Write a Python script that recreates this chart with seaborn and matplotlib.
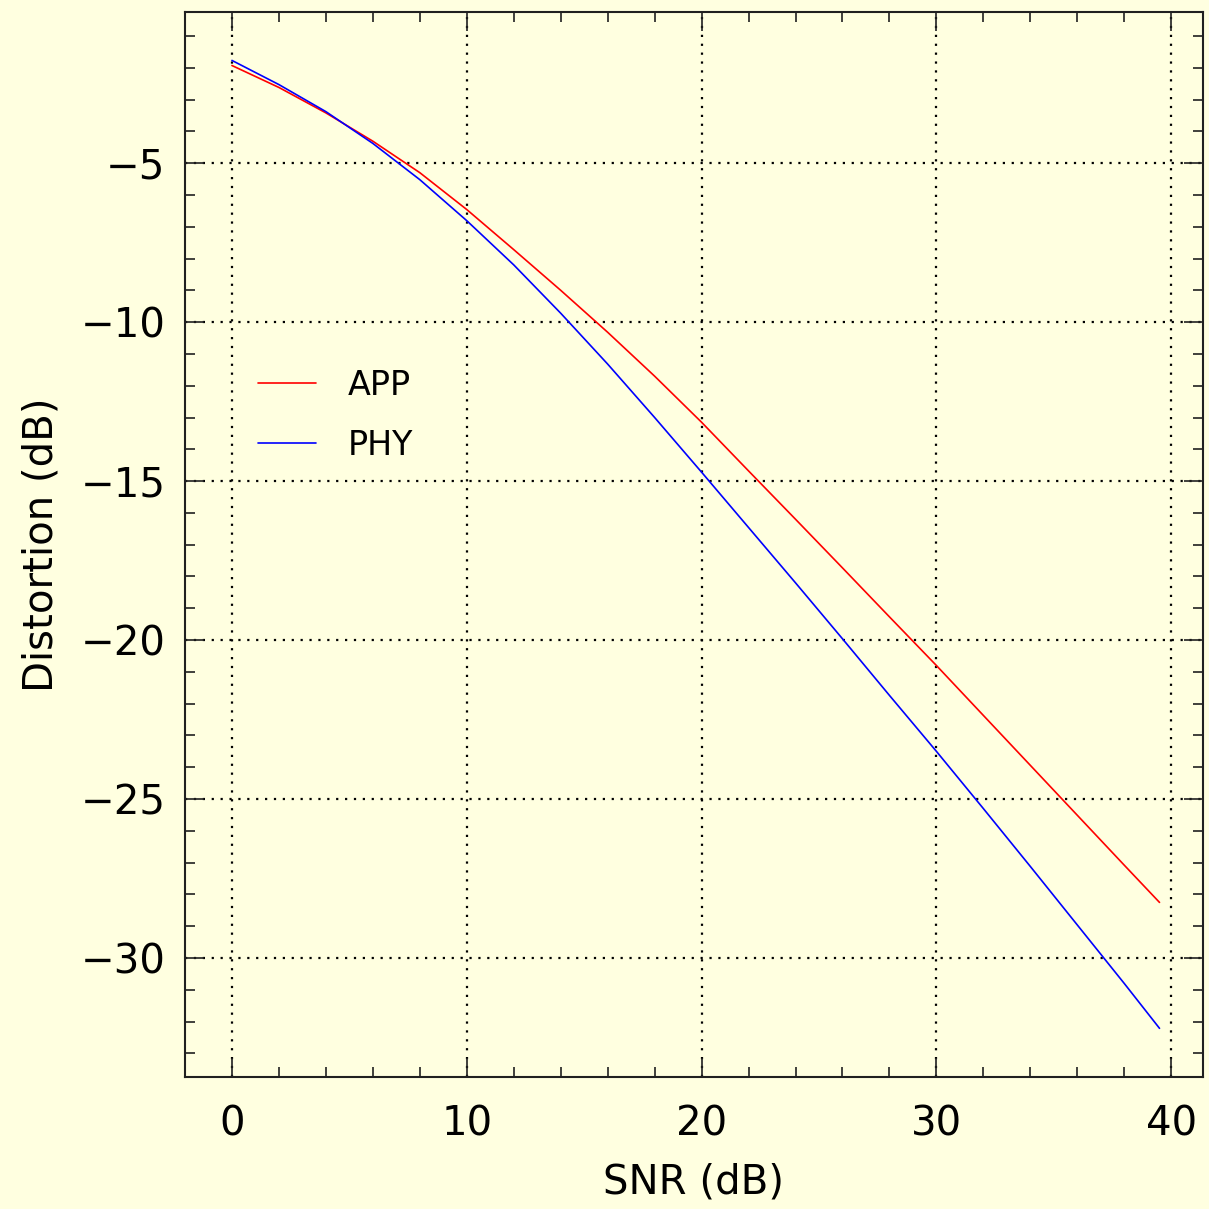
import matplotlib
matplotlib.use("Agg")
import matplotlib.pyplot as plt
from matplotlib.ticker import MultipleLocator
import seaborn as sns
import pandas as pd

# values
snr_app = [0, 2, 4, 6, 8, 10, 12, 14, 16, 18, 20, 22, 24, 26, 28, 30, 32, 34, 36, 38, 39.5]
dist_app = [-1.93, -2.62, -3.42, -4.31, -5.3, -6.46, -7.72, -9.0, -10.32, -11.7, -13.15,
            -14.68, -16.2, -17.73, -19.27, -20.8, -22.37, -23.94, -25.51, -27.08, -28.25]

snr_phy = [0, 2, 4, 6, 8, 10, 12, 14, 16, 18, 20, 22, 24, 26, 28, 30, 32, 34, 36, 38, 39.5]
dist_phy = [-1.77, -2.53, -3.38, -4.38, -5.52, -6.81, -8.2, -9.72, -11.32, -13.0, -14.72,
            -16.46, -18.2, -19.96, -21.74, -23.5, -25.3, -27.12, -28.96, -30.8, -32.21]

labels = ["APP", "PHY"]
colors = {"APP": "#ff0000", "PHY": "#0000ff"}

df = pd.concat([
    pd.DataFrame({"snr": snr_app, "dist": dist_app, "curve": "APP"}),
    pd.DataFrame({"snr": snr_phy, "dist": dist_phy, "curve": "PHY"}),
])

sns.set_style("ticks")
bg = "#ffffe0"
plt.rcParams["font.family"] = ["DejaVu Sans"]
plt.rcParams["text.color"] = "black"
plt.rcParams["axes.labelcolor"] = "black"
plt.rcParams["xtick.labelcolor"] = "black"
plt.rcParams["ytick.labelcolor"] = "black"

fig = plt.figure(figsize=(12.09, 12.09), dpi=100, facecolor=bg)
ax = fig.add_axes([0.153, 0.1092, 0.842, 0.8808])
ax.set_facecolor(bg)

sns.lineplot(data=df, x="snr", y="dist", hue="curve", hue_order=labels,
             palette=colors, linewidth=1.2, ax=ax, sort=False)

ax.set_xlim(-2, 41.35)
ax.set_ylim(-33.74, -0.25)
ax.xaxis.set_major_locator(MultipleLocator(10))
ax.xaxis.set_minor_locator(MultipleLocator(2))
ax.yaxis.set_major_locator(MultipleLocator(5))
ax.yaxis.set_minor_locator(MultipleLocator(1))

ax.grid(True, which="major", color="black", linestyle=(0, (1, 3)), linewidth=1.6)
ax.tick_params(which="both", direction="in", top=True, right=True,
               color="#202020", labelsize=29)
ax.tick_params(axis="x", which="both", pad=20)
ax.tick_params(axis="y", which="both", pad=14)
ax.tick_params(which="major", length=14, width=1.2)
ax.tick_params(which="minor", length=7, width=1.2)
for s in ax.spines.values():
    s.set_linewidth(1.5)
    s.set_color("#202020")

ax.set_xlabel("SNR (dB)", fontsize=29, labelpad=13)
ax.set_ylabel("Distortion (dB)", fontsize=29, labelpad=14)

leg = ax.legend(loc="upper left", bbox_to_anchor=(0.0717, 0.665), frameon=False,
                fontsize=24, handlelength=1.74, handletextpad=0.96,
                labelspacing=0.81, borderpad=0, borderaxespad=0)

fig.savefig("out.png", dpi=100, facecolor=bg)
